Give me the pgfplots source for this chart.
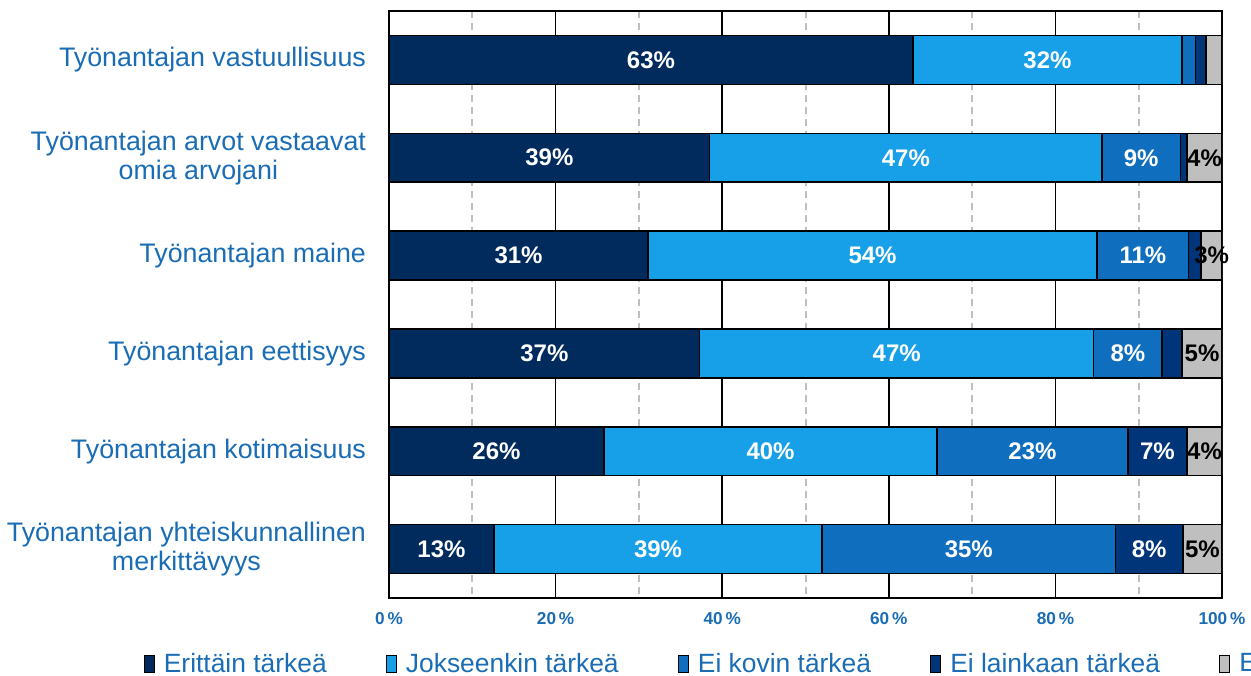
\documentclass[border=0pt]{standalone}
\usepackage{pgfplots}
\pgfplotsset{compat=1.18}
\usepackage{fontspec}
\setmainfont{Liberation Sans}
\definecolor{cDark}{HTML}{002B5C}
\definecolor{cLight}{HTML}{17A0E8}
\definecolor{cMid}{HTML}{0F6EBE}
\definecolor{cDark2}{HTML}{003579}
\definecolor{cGray}{HTML}{BFBFBF}
\definecolor{txtblue}{HTML}{1A6DB4}

\begin{document}
\begin{tikzpicture}
\begin{axis}[
  at={(194.5pt,38.5pt)}, anchor=south west,
  scale only axis,
  width=416.5pt, height=293.5pt,
  xbar stacked,
  bar width=0.5,
  xmin=0, xmax=100,
  ymin=-0.5, ymax=5.5,
  y dir=reverse,
  axis line style={black, line width=1pt},
  major tick length=0pt, minor tick length=0pt,
  xtick={0,20,...,100},
  minor xtick={10,30,...,90},
  xticklabels={0\,\%,20\,\%,40\,\%,60\,\%,80\,\%,100\,\%},
  xticklabel style={font=\fontsize{8.6}{9}\selectfont\bfseries, text=txtblue, yshift=-3.5pt},
  xmajorgrids, xminorgrids,
  major grid style={black, line width=0.75pt},
  minor grid style={cGray, line width=1pt, dash pattern=on 3.5pt off 2.5pt},
  ytick={0,...,5},
  yticklabels={Työnantajan vastuullisuus,
    Työnantajan arvot vastaavat\\omia arvojani,
    Työnantajan maine,
    Työnantajan eettisyys,
    Työnantajan kotimaisuus,
    Työnantajan yhteiskunnallinen\\merkittävyys},
  yticklabel style={align=center, font=\fontsize{13.4}{14.5}\selectfont, text=txtblue, xshift=-8pt},
  /pgf/number format/assume math mode=true,
  point meta=explicit symbolic,
  nodes near coords,
  every node near coord/.append style={font=\fontsize{12}{13}\selectfont\bfseries, text=white},
  legend columns=-1,
  legend style={at={(-0.295,-0.1124)}, anchor=west, draw=none, fill=none, inner sep=0pt,
    font=\fontsize{13.2}{14.5}\selectfont, text=txtblue,
    nodes={inner sep=1.5pt},
    /tikz/every odd column/.append style={column sep=3pt},
    /tikz/every even column/.append style={column sep=28pt}},
  legend image code/.code={\draw[#1, draw=black, line width=0.6pt] (0pt,-4.2pt) rectangle (5pt,4.2pt);},
]
\addplot+[fill=cDark, draw=black, line width=0.75pt] coordinates {
  (62.9,0) [63\%] (38.5,1) [39\%] (31.1,2) [31\%] (37.3,3) [37\%] (25.8,4) [26\%] (12.6,5) [13\%]};
\addplot+[fill=cLight, draw=black, line width=0.75pt] coordinates {
  (32.3,0) [32\%] (47.1,1) [47\%] (53.9,2) [54\%] (47.3,3) [47\%] (40.0,4) [40\%] (39.4,5) [39\%]};
\addplot+[fill=cMid, draw=black, line width=0.75pt] coordinates {
  (1.6,0) [{}] (9.4,1) [9\%] (11.0,2) [11\%] (8.2,3) [8\%] (22.9,4) [23\%] (35.2,5) [35\%]};
\addplot+[fill=cDark2, draw=black, line width=0.75pt] coordinates {
  (1.3,0) [{}] (0.8,1) [{}] (1.5,2) [{}] (2.4,3) [{}] (7.1,4) [7\%] (8.1,5) [8\%]};
\addplot+[fill=cGray, draw=black, line width=0.75pt, every node near coord/.append style={text=black}] coordinates {
  (1.9,0) [{}] (4.2,1) [4\%] (2.5,2) [3\%] (4.8,3) [5\%] (4.2,4) [4\%] (4.7,5) [5\%]};
\legend{Erittäin tärkeä, Jokseenkin tärkeä, Ei kovin tärkeä, Ei lainkaan tärkeä, En osaa sanoa}
\end{axis}
\pgfresetboundingbox
\path[use as bounding box] (0,0) rectangle (625.5pt,337.5pt);
\end{tikzpicture}
\end{document}
